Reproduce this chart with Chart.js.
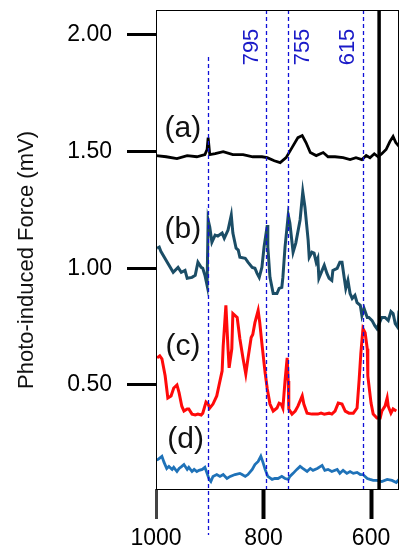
<!DOCTYPE html>
<html>
<head>
<meta charset="utf-8">
<script src="https://cdn.jsdelivr.net/npm/chart.js@4.4.0/dist/chart.umd.min.js"></script>
<style>
  html, body { margin: 0; padding: 0; background: #fff; }
</style>
</head>
<body>
<canvas id="chart" width="410" height="557"></canvas>
<script>
// spectra: wavenumber (cm-1) and photo-induced force (mV)
const wnA = [1000, 981, 961, 942, 924, 909, 905, 903, 900, 890, 875, 857, 838, 820, 803, 793, 780, 769, 758, 747, 736, 728, 721, 713, 702, 689, 680, 667, 652, 639, 628, 617, 609, 602, 594, 587, 580, 572, 565, 559, 554, 548];
const valA = [1.483, 1.478, 1.470, 1.483, 1.478, 1.487, 1.509, 1.560, 1.487, 1.491, 1.500, 1.487, 1.487, 1.478, 1.478, 1.474, 1.461, 1.453, 1.474, 1.517, 1.560, 1.569, 1.539, 1.496, 1.483, 1.496, 1.478, 1.478, 1.474, 1.466, 1.474, 1.466, 1.483, 1.474, 1.491, 1.478, 1.491, 1.509, 1.543, 1.565, 1.539, 1.522];

const wnB = [998, 994, 991, 978, 968, 959, 953, 946, 942, 933, 927, 922, 916, 913, 909, 905, 903, 900, 896, 890, 885, 877, 873, 866, 860, 857, 851, 847, 844, 834, 829, 821, 816, 812, 808, 803, 799, 793, 792, 788, 782, 775, 771, 766, 764, 760, 754, 751, 745, 740, 732, 727, 723, 717, 715, 710, 706, 702, 699, 697, 691, 687, 682, 678, 673, 671, 663, 658, 654, 650, 647, 643, 639, 635, 630, 626, 620, 617, 613, 607, 604, 598, 593, 589, 580, 574, 568, 563, 559, 555, 550, 548];
const valB = [1.086, 1.091, 1.073, 1.022, 0.983, 1.004, 0.983, 0.991, 0.957, 0.961, 0.970, 1.026, 1.004, 1.000, 0.970, 0.927, 1.207, 1.177, 1.112, 1.142, 1.138, 1.151, 1.129, 1.164, 1.228, 1.151, 1.086, 1.078, 1.047, 1.043, 1.026, 1.004, 1.000, 0.978, 0.961, 1.004, 1.091, 1.185, 1.091, 0.961, 0.892, 0.892, 0.914, 0.918, 0.961, 1.091, 1.228, 1.194, 1.069, 1.108, 1.207, 1.328, 1.263, 1.121, 1.047, 1.069, 1.065, 1.026, 1.043, 0.957, 0.991, 1.013, 0.978, 0.957, 0.948, 0.991, 1.000, 1.026, 1.026, 0.961, 0.914, 0.948, 0.892, 0.871, 0.884, 0.853, 0.841, 0.797, 0.828, 0.789, 0.789, 0.776, 0.754, 0.741, 0.789, 0.789, 0.776, 0.815, 0.806, 0.763, 0.746, 0.819];

const wnC = [998, 993, 989, 983, 978, 972, 967, 961, 957, 952, 948, 942, 939, 933, 927, 922, 916, 913, 907, 903, 900, 894, 887, 883, 877, 875, 870, 866, 864, 859, 857, 849, 844, 838, 833, 829, 823, 820, 816, 810, 807, 803, 797, 793, 788, 782, 775, 771, 767, 764, 760, 756, 754, 753, 747, 741, 736, 728, 725, 719, 710, 699, 693, 687, 678, 673, 667, 661, 654, 648, 641, 633, 626, 622, 619, 615, 611, 607, 606, 600, 596, 589, 583, 580, 574, 570, 568, 563, 559, 553];
const valC = [0.616, 0.625, 0.612, 0.539, 0.444, 0.453, 0.487, 0.500, 0.466, 0.409, 0.388, 0.397, 0.397, 0.375, 0.371, 0.375, 0.371, 0.379, 0.427, 0.418, 0.401, 0.418, 0.453, 0.496, 0.560, 0.668, 0.841, 0.655, 0.573, 0.655, 0.806, 0.789, 0.698, 0.612, 0.547, 0.612, 0.703, 0.716, 0.767, 0.819, 0.767, 0.677, 0.552, 0.483, 0.418, 0.388, 0.401, 0.422, 0.418, 0.401, 0.517, 0.616, 0.517, 0.397, 0.375, 0.388, 0.409, 0.453, 0.418, 0.379, 0.375, 0.375, 0.379, 0.375, 0.379, 0.375, 0.388, 0.422, 0.418, 0.388, 0.379, 0.379, 0.401, 0.526, 0.634, 0.741, 0.724, 0.655, 0.539, 0.422, 0.375, 0.358, 0.358, 0.388, 0.409, 0.444, 0.409, 0.379, 0.397, 0.388];

const wnD = [1000, 996, 989, 985, 980, 976, 970, 967, 961, 957, 952, 948, 942, 939, 933, 929, 924, 920, 914, 909, 905, 901, 898, 894, 887, 881, 875, 868, 862, 853, 844, 840, 834, 829, 821, 816, 810, 805, 801, 797, 792, 784, 779, 773, 766, 760, 754, 751, 745, 738, 732, 727, 719, 713, 708, 700, 691, 686, 680, 673, 663, 658, 652, 645, 639, 633, 626, 620, 615, 607, 602, 596, 589, 580, 570, 561, 553, 548];
const valD = [0.177, 0.181, 0.194, 0.168, 0.142, 0.151, 0.138, 0.147, 0.129, 0.142, 0.151, 0.159, 0.138, 0.147, 0.129, 0.138, 0.129, 0.134, 0.138, 0.147, 0.121, 0.095, 0.086, 0.108, 0.116, 0.108, 0.116, 0.099, 0.108, 0.116, 0.121, 0.116, 0.108, 0.116, 0.138, 0.159, 0.172, 0.194, 0.168, 0.138, 0.108, 0.095, 0.099, 0.099, 0.108, 0.099, 0.095, 0.108, 0.121, 0.138, 0.151, 0.142, 0.129, 0.142, 0.134, 0.142, 0.155, 0.134, 0.138, 0.129, 0.138, 0.121, 0.134, 0.121, 0.129, 0.121, 0.125, 0.116, 0.116, 0.099, 0.095, 0.091, 0.091, 0.086, 0.095, 0.091, 0.082, 0.095];

const xTicks = [1000, 800, 600];
const yTicks = [0.5, 1.0, 1.5, 2.0];

// marked bands (dashed) and the cursor line
const markerWn = [903, 795, 755, 615];
const markerText = ['', '795', '755', '615'];
const cursorWn = 585;

const seriesNames = ['(a)', '(b)', '(c)', '(d)'];
const seriesLabelWn = [950, 950, 950, 945];
const seriesLabelVal = [1.60, 1.165, 0.663, 0.264];

const yTitle = 'Photo-induced Force (mV)';

const FONT = '"Liberation Sans", Arial, sans-serif';

function pts(xs, ys) {
    return xs.map((x, i) => ({ x: x, y: ys[i] }));
}

// extra drawing: box, dashed markers, cursor, (a)-(d) labels, y title
const overlay = {
    id: 'overlay',
    afterDatasetsDraw(chart) {
        const ctx = chart.ctx;
        const area = chart.chartArea;
        const xs = chart.scales.x;
        const ys = chart.scales.y;
        ctx.save();

        // dashed marker lines
        ctx.strokeStyle = '#1010d8';
        ctx.lineWidth = 1.3;
        ctx.setLineDash([4, 3]);
        markerWn.forEach((wn, i) => {
            const px = Math.round(xs.getPixelForValue(wn)) + 0.5;
            let top = area.top, bottom = area.bottom;
            if (i === 0) {
                top = ys.getPixelForValue(1.906);
                bottom = ys.getPixelForValue(-0.143);
            }
            ctx.beginPath();
            ctx.moveTo(px, top);
            ctx.lineTo(px, bottom);
            ctx.stroke();
        });
        ctx.setLineDash([]);

        // marker labels, rotated
        ctx.fillStyle = '#1a1ac8';
        ctx.font = '22px ' + FONT;
        ctx.textAlign = 'center';
        ctx.textBaseline = 'middle';
        const side = [0, -14, 15, -15];
        markerWn.forEach((wn, i) => {
            if (!markerText[i]) return;
            const px = xs.getPixelForValue(wn) + side[i];
            ctx.save();
            ctx.translate(px, area.top + 37);
            ctx.rotate(-Math.PI / 2);
            ctx.fillText(markerText[i], 0, 0);
            ctx.restore();
        });

        // thick cursor line
        ctx.strokeStyle = '#000';
        ctx.lineWidth = 3.5;
        const cx = xs.getPixelForValue(cursorWn);
        ctx.beginPath();
        ctx.moveTo(cx, area.top);
        ctx.lineTo(cx, area.bottom);
        ctx.stroke();

        // plot box
        ctx.lineWidth = 1;
        ctx.strokeRect(Math.round(area.left) + 0.5, Math.round(area.top) + 0.5,
            Math.round(area.right - area.left) - 1, Math.round(area.bottom - area.top));

        // series labels
        ctx.fillStyle = '#111';
        ctx.font = '30px ' + FONT;
        seriesNames.forEach((name, i) => {
            ctx.fillText(name, xs.getPixelForValue(seriesLabelWn[i]), ys.getPixelForValue(seriesLabelVal[i]));
        });

        // y axis title
        ctx.font = '22px ' + FONT;
        ctx.fillStyle = '#111';
        ctx.translate(27, 260);
        ctx.rotate(-Math.PI / 2);
        ctx.fillText(yTitle, 0, 0);
        ctx.restore();
    }
};

const lineStyle = { pointRadius: 0, borderWidth: 2.8, tension: 0, fill: false };

new Chart(document.getElementById('chart'), {
    type: 'line',
    data: {
        datasets: [
            { label: '(a)', data: pts(wnA, valA), borderColor: '#000000', ...lineStyle },
            { label: '(b)', data: pts(wnB, valB), borderColor: '#1b4d66', ...lineStyle, borderWidth: 3 },
            { label: '(c)', data: pts(wnC, valC), borderColor: '#ff0a0a', ...lineStyle, borderWidth: 3 },
            { label: '(d)', data: pts(wnD, valD), borderColor: '#1f72b8', ...lineStyle }
        ]
    },
    options: {
        responsive: false,
        animation: false,
        layout: { padding: { top: 10, right: 11, left: 0, bottom: 0 } },
        plugins: {
            legend: { display: false },
            tooltip: { enabled: false }
        },
        scales: {
            x: {
                type: 'linear',
                reverse: true,
                min: 548,
                max: 1000,
                afterBuildTicks: s => { s.ticks = xTicks.map(v => ({ value: v })); },
                afterFit: s => {
                    s.height = 68;
                    s.paddingLeft = 0;
                    s.paddingRight = 0;
                },
                grid: {
                    drawOnChartArea: false,
                    tickLength: 30,
                    tickWidth: c => (c.tick && c.tick.value === 1000 ? 3 : 4),
                    tickColor: c => (c.tick && c.tick.value === 1000 ? '#444' : '#000')
                },
                border: { display: false },
                ticks: {
                    color: '#000',
                    font: { family: FONT, size: 23 },
                    padding: 6,
                    maxRotation: 0,
                    autoSkip: false,
                    callback: v => String(v)
                }
            },
            y: {
                min: 0.054,
                max: 2.107,
                afterBuildTicks: s => { s.ticks = yTicks.map(v => ({ value: v })); },
                afterFit: s => {
                    s.width = 156;
                    s.paddingTop = 0;
                    s.paddingBottom = 0;
                },
                grid: { drawOnChartArea: false, tickLength: 29, tickWidth: 3, tickColor: '#000' },
                border: { display: false },
                ticks: {
                    color: '#000',
                    font: { family: FONT, size: 23 },
                    padding: 15,
                    callback: v => v.toFixed(2)
                }
            }
        }
    },
    plugins: [overlay]
});
</script>
</body>
</html>
